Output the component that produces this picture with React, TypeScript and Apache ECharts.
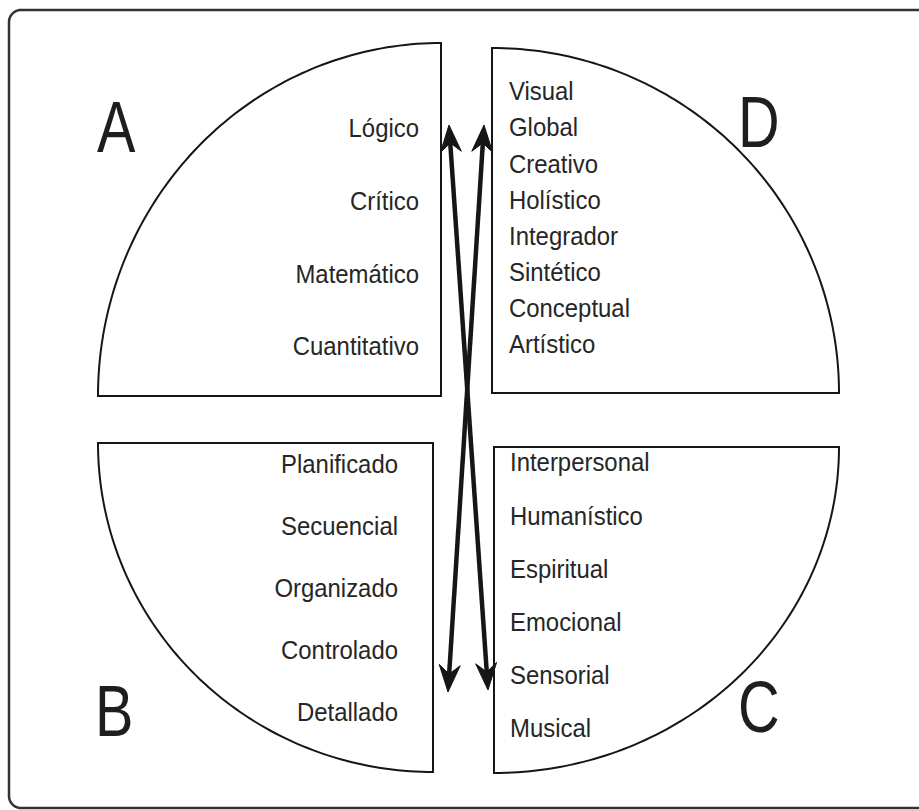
import React, { useEffect, useRef } from "react";
import * as echarts from "echarts";

// ---- content ----
const wordsA = ["Lógico", "Crítico", "Matemático", "Cuantitativo"];
const wordsB = ["Planificado", "Secuencial", "Organizado", "Controlado", "Detallado"];
const wordsC = ["Interpersonal", "Humanístico", "Espiritual", "Emocional", "Sensorial", "Musical"];
const wordsD = ["Visual", "Global", "Creativo", "Holístico", "Integrador", "Sintético", "Conceptual", "Artístico"];
const letters = ["A", "B", "C", "D"];

// ---- layout (pixels) ----
type Quad = { cx: number; cy: number; rx: number; ry: number; t0: number; t1: number };
const quads: Quad[] = [
  { cx: 441, cy: 396, rx: 343, ry: 353, t0: Math.PI, t1: 1.5 * Math.PI }, // A
  { cx: 433, cy: 443, rx: 335, ry: 329, t0: 0.5 * Math.PI, t1: Math.PI }, // B
  { cx: 494, cy: 447, rx: 345, ry: 326, t0: 0, t1: 0.5 * Math.PI }, // C
  { cx: 492, cy: 393, rx: 347, ry: 345, t0: -0.5 * Math.PI, t1: 0 }, // D
];

const FONT = "'Liberation Sans', Arial, Helvetica, sans-serif";
const TEXT_COLOR = "#262626";
const LINE_COLOR = "#161616";

function arcPolygon(q: Quad) {
  const pts: number[][] = [[q.cx, q.cy]];
  const n = 90;
  for (let i = 0; i <= n; i++) {
    const t = q.t0 + ((q.t1 - q.t0) * i) / n;
    pts.push([q.cx + q.rx * Math.cos(t), q.cy + q.ry * Math.sin(t)]);
  }
  return pts;
}

function framePoints() {
  const left = 9, top = 10, bottom = 808, right = 960, r = 12;
  const pts: number[][] = [[right, top]];
  for (let i = 0; i <= 12; i++) {
    const t = -Math.PI / 2 - (Math.PI / 2) * (i / 12);
    pts.push([left + r + r * Math.cos(t), top + r + r * Math.sin(t)]);
  }
  for (let i = 0; i <= 12; i++) {
    const t = Math.PI - (Math.PI / 2) * (i / 12);
    pts.push([left + r + r * Math.cos(t), bottom - r + r * Math.sin(t)]);
  }
  pts.push([right, bottom]);
  return pts;
}

function wordTexts(words: string[], x: number, y0: number, step: number, align: string) {
  return words.map((w, i) => ({
    type: "text",
    x,
    y: y0 + step * i,
    scaleX: 0.92,
    style: {
      x: 0,
      y: 0,
      text: w,
      font: `26px ${FONT}`,
      fill: TEXT_COLOR,
      textAlign: align,
      textVerticalAlign: "middle",
    },
  }));
}

function arrow(p0: number[], p1: number[]) {
  const dx = p1[0] - p0[0];
  const dy = p1[1] - p0[1];
  const len = Math.hypot(dx, dy);
  const ux = dx / len;
  const uy = dy / len;
  const px = -uy;
  const py = ux;
  const L = 27;
  const W = 10.5;
  const N = 18;
  const head = (tip: number[], dir: number) => {
    const bx = tip[0] - dir * ux * L;
    const by = tip[1] - dir * uy * L;
    const nx = tip[0] - dir * ux * N;
    const ny = tip[1] - dir * uy * N;
    return {
      type: "polygon",
      shape: {
        points: [
          tip,
          [bx + px * W, by + py * W],
          [nx, ny],
          [bx - px * W, by - py * W],
        ],
      },
      style: { fill: LINE_COLOR, stroke: LINE_COLOR, lineWidth: 1 },
    };
  };
  return [
    {
      type: "line",
      shape: {
        x1: p0[0] + ux * N,
        y1: p0[1] + uy * N,
        x2: p1[0] - ux * N,
        y2: p1[1] - uy * N,
      },
      style: { stroke: LINE_COLOR, lineWidth: 4.5 },
    },
    head(p1, 1),
    head(p0, -1),
  ];
}

export default function App() {
  const ref = useRef<HTMLDivElement>(null);
  useEffect(() => {
    if (!ref.current) return;
    const chart = echarts.init(ref.current, undefined, { renderer: "svg" });

    const elements: any[] = [];
    elements.push({
      type: "polyline",
      shape: { points: framePoints() },
      style: { fill: "none", stroke: "#333333", lineWidth: 2.5 },
    });
    quads.forEach((q) => {
      elements.push({
        type: "polygon",
        shape: { points: arcPolygon(q) },
        style: { fill: "#ffffff", stroke: LINE_COLOR, lineWidth: 2 },
      });
    });

    elements.push(...wordTexts(wordsA, 419, 128, 72.7, "right"));
    elements.push(...wordTexts(wordsB, 398, 464, 62, "right"));
    elements.push(...wordTexts(wordsC, 510, 462, 53.2, "left"));
    elements.push(...wordTexts(wordsD, 509, 91, 36.1, "left"));

    const letterPos = [
      [97, 127],
      [95, 711],
      [738, 707],
      [738, 122],
    ];
    letters.forEach((l, i) => {
      elements.push({
        type: "text",
        x: letterPos[i][0],
        y: letterPos[i][1],
        scaleX: 0.8,
        style: {
          x: 0,
          y: 0,
          text: l,
          font: `72px ${FONT}`,
          fill: "#1e1e1e",
          textAlign: "left",
          textVerticalAlign: "middle",
        },
      });
    });

    elements.push(...arrow([449, 125], [488, 690]));
    elements.push(...arrow([484, 125], [448, 692]));

    chart.setOption({
      animation: false,
      backgroundColor: "#ffffff",
      graphic: { elements },
    });
    return () => chart.dispose();
  }, []);
  return (
    <div
      ref={ref}
      style={{ position: "fixed", left: 0, top: 0, width: 919, height: 810, background: "#fff", overflow: "hidden" }}
    />
  );
}
